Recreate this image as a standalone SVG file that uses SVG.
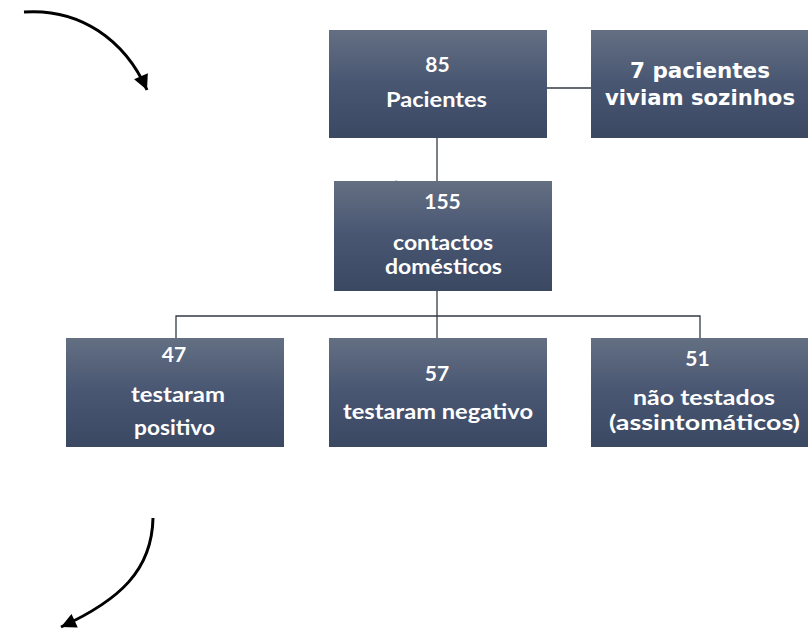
<svg xmlns="http://www.w3.org/2000/svg" width="808" height="633" viewBox="0 0 808 633">
<style>
.box{fill:url(#g)}
.t{font-family:Lato,"Open Sans","Liberation Sans",sans-serif;font-weight:bold;fill:#fff;font-size:21px;text-anchor:middle}
.t2{font-family:"DejaVu Sans","Liberation Sans",sans-serif;font-weight:bold;fill:#fff;font-size:21.5px;text-anchor:middle}
.c{stroke:#333a44;stroke-width:1.3;fill:none}
.arr{stroke:#000;stroke-width:3;fill:none}
</style>
<defs>
<linearGradient id="g" x1="0" y1="0" x2="0" y2="1">
<stop offset="0" stop-color="#646f82"/>
<stop offset="0.5" stop-color="#485672"/>
<stop offset="1" stop-color="#3a4862"/>
</linearGradient>
<marker id="ah" viewBox="0 0 10 10" refX="10" refY="5" markerWidth="5.5" markerHeight="5" orient="auto" markerUnits="strokeWidth">
<path d="M0,0 L10,5 L0,10 z" fill="#000"/>
</marker>
</defs>
<g id="connectors">
<line class="c" x1="547" y1="88" x2="598" y2="88"/>
<line class="c" x1="437" y1="138" x2="437" y2="181"/>
<line class="c" x1="437" y1="291" x2="437" y2="338"/>
<polyline class="c" points="176,338 176,316 700,316 700,338"/>
</g>
<g id="arrow-top">
<path class="arr" d="M24,12 C80,8 125,40 147,90" marker-end="url(#ah)"/>
</g>
<g id="arrow-bottom">
<path class="arr" d="M153,518 C152,570 120,600 61,627" marker-end="url(#ah)"/>
</g>
<text x="393" y="189" font-family="Lato,sans-serif" font-size="12" fill="#555">´</text>
<g id="n85">
<rect class="box" x="329" y="30" width="218" height="108"/>
<text class="t" x="437.5" y="72">85</text>
<text class="t" x="436.5" y="107" textLength="101" lengthAdjust="spacingAndGlyphs">Pacientes</text>
</g>
<g id="n7">
<rect class="box" x="591" y="30" width="217" height="108"/>
<text class="t2" x="700" y="78" textLength="140" lengthAdjust="spacingAndGlyphs">7 pacientes</text>
<text class="t2" x="700" y="105" textLength="190" lengthAdjust="spacingAndGlyphs">viviam sozinhos</text>
</g>
<g id="n155">
<rect class="box" x="334" y="181" width="218" height="110"/>
<text class="t" x="442.5" y="209">155</text>
<text class="t" x="443" y="250" textLength="100" lengthAdjust="spacingAndGlyphs">contactos</text>
<text class="t" x="443.5" y="274" textLength="117" lengthAdjust="spacingAndGlyphs">domésticos</text>
</g>
<g id="n47">
<rect class="box" x="66" y="338" width="218" height="109"/>
<text class="t" x="174" y="362">47</text>
<text class="t" x="178" y="402" textLength="94" lengthAdjust="spacingAndGlyphs">testaram</text>
<text class="t" x="174.5" y="435" textLength="81" lengthAdjust="spacingAndGlyphs">positivo</text>
</g>
<g id="n57">
<rect class="box" x="329" y="338" width="218" height="109"/>
<text class="t" x="437" y="381">57</text>
<text class="t" x="438" y="419" textLength="190" lengthAdjust="spacingAndGlyphs">testaram negativo</text>
</g>
<g id="n51">
<rect class="box" x="591" y="338" width="217" height="109"/>
<text class="t" x="697.5" y="366">51</text>
<text class="t" x="704" y="405" font-size="20" textLength="142" lengthAdjust="spacingAndGlyphs">não testados</text>
<text class="t" x="704.5" y="430" font-size="20" textLength="191" lengthAdjust="spacingAndGlyphs">(assintomáticos)</text>
</g>
</svg>
